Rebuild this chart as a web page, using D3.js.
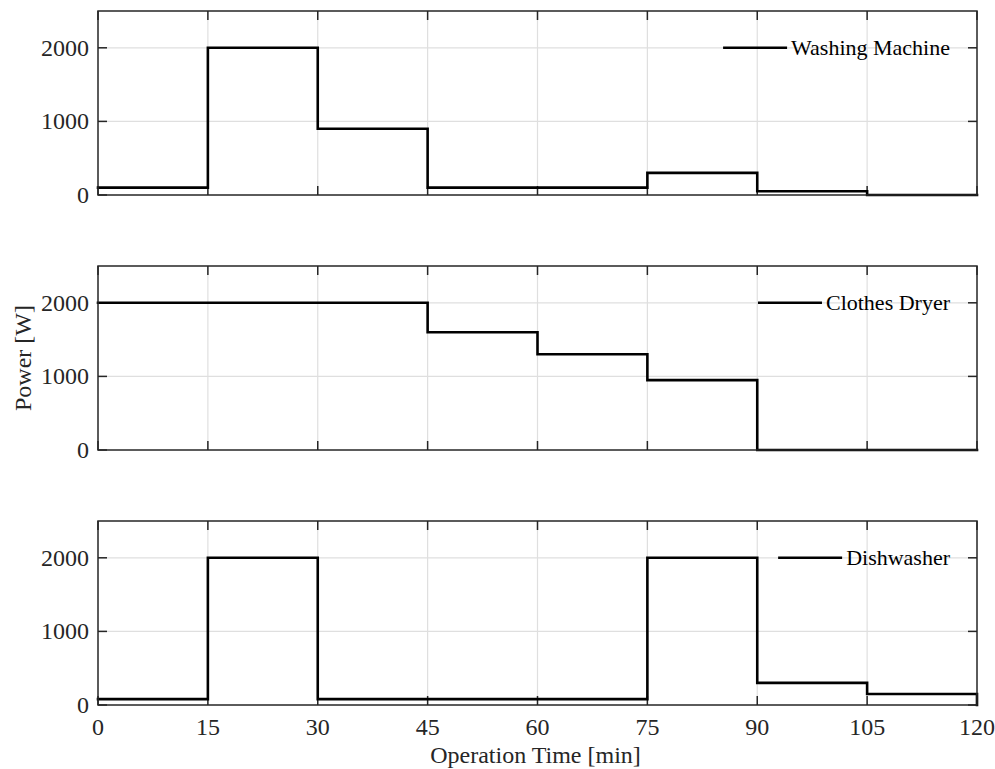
<!DOCTYPE html>
<html>
<head>
<meta charset="utf-8">
<script src="https://cdn.jsdelivr.net/npm/d3@7"></script>
<style>
  html, body { margin: 0; padding: 0; background: #fff; }
  svg { display: block; }
  text { font-family: "Liberation Serif", "Times New Roman", serif; fill: #262626; }
</style>
</head>
<body>
<svg id="chart" width="995" height="769"></svg>
<script>
// Time breakpoints (minutes) at which each 15-minute operating stage begins
const stageStarts = [0, 15, 30, 45, 60, 75, 90, 105];
const endTime = 120;

// Power drawn during each stage [W]
const washingMachine = [100, 2000, 900, 100, 100, 300, 50, 0];
const clothesDryer   = [2000, 2000, 2000, 1600, 1300, 950, 0, 0];
const dishwasher     = [80, 2000, 80, 80, 80, 2000, 300, 150];

const appliances = ["Washing Machine", "Clothes Dryer", "Dishwasher"];
const seriesValues = [washingMachine, clothesDryer, dishwasher];

const xTicks = [0, 15, 30, 45, 60, 75, 90, 105, 120];
const yTicks = [0, 1000, 2000];
const yMax = 2500;

const svg = d3.select("#chart");
const left = 98, right = 977;
const panelTops = [11, 266, 521];
const panelH = 184;
const axisColor = "#262626";
const gridColor = "#dfdfdf";
const tickLen = 9;
const tickFont = 24;

const x = d3.scaleLinear().domain([0, endTime]).range([left, right]);

appliances.forEach((name, i) => {
  const top = panelTops[i], bottom = top + panelH;
  const y = d3.scaleLinear().domain([0, yMax]).range([bottom, top]);
  const g = svg.append("g");

  // grid
  g.append("g").selectAll("line").data(xTicks.slice(1, -1)).join("line")
    .attr("x1", d => x(d)).attr("x2", d => x(d))
    .attr("y1", top).attr("y2", bottom)
    .attr("stroke", gridColor).attr("stroke-width", 1.2);
  g.append("g").selectAll("line").data(yTicks.slice(1)).join("line")
    .attr("x1", left).attr("x2", right)
    .attr("y1", d => y(d)).attr("y2", d => y(d))
    .attr("stroke", gridColor).attr("stroke-width", 1.2);

  // inward ticks on all four sides
  const ticks = g.append("g").attr("stroke", axisColor).attr("stroke-width", 1.5);
  xTicks.forEach(t => {
    ticks.append("line").attr("x1", x(t)).attr("x2", x(t)).attr("y1", bottom).attr("y2", bottom - tickLen);
    ticks.append("line").attr("x1", x(t)).attr("x2", x(t)).attr("y1", top).attr("y2", top + tickLen);
  });
  yTicks.forEach(t => {
    ticks.append("line").attr("x1", left).attr("x2", left + tickLen).attr("y1", y(t)).attr("y2", y(t));
    ticks.append("line").attr("x1", right).attr("x2", right - tickLen).attr("y1", y(t)).attr("y2", y(t));
  });

  // step series
  const vals = seriesValues[i];
  const pts = stageStarts.map((t, k) => [t, vals[k]]);
  pts.push([endTime, vals[vals.length - 1]]);
  pts.push([endTime, 0]);
  const line = d3.line().x(d => x(d[0])).y(d => y(d[1])).curve(d3.curveStepAfter);
  g.append("path").datum(pts)
    .attr("d", line).attr("fill", "none")
    .attr("stroke", "#000").attr("stroke-width", 2.6)
    .attr("stroke-linejoin", "miter").attr("stroke-linecap", "square");

  // box
  g.append("rect").attr("x", left).attr("y", top)
    .attr("width", right - left).attr("height", panelH)
    .attr("fill", "none").attr("stroke", axisColor).attr("stroke-width", 1.5);

  // y tick labels
  g.append("g").selectAll("text").data(yTicks).join("text")
    .attr("x", left - 9).attr("y", d => y(d)).attr("dy", "0.33em")
    .attr("text-anchor", "end").attr("font-size", tickFont)
    .text(d => d);

  // legend entry
  const ly = y(2000);
  const label = g.append("text")
    .attr("x", 950).attr("y", ly).attr("dy", "0.33em")
    .attr("text-anchor", "end").attr("font-size", 22)
    .style("fill", "#000")
    .text(name);
  const bb = label.node().getBBox();
  g.append("line")
    .attr("x1", bb.x - 68).attr("x2", bb.x - 4)
    .attr("y1", ly).attr("y2", ly)
    .attr("stroke", "#000").attr("stroke-width", 2.6);

  // x tick labels on bottom panel only
  if (i === appliances.length - 1) {
    g.append("g").selectAll("text").data(xTicks).join("text")
      .attr("x", d => x(d)).attr("y", bottom + 30)
      .attr("text-anchor", "middle").attr("font-size", tickFont)
      .text(d => d);
  }
});

// axis titles
svg.append("text")
  .attr("x", (left + right) / 2 - 2).attr("y", 763)
  .attr("text-anchor", "middle").attr("font-size", 24)
  .text("Operation Time [min]");

svg.append("text")
  .attr("transform", `translate(31, ${panelTops[1] + panelH / 2}) rotate(-90)`)
  .attr("text-anchor", "middle").attr("font-size", 24)
  .text("Power [W]");
</script>
</body>
</html>
